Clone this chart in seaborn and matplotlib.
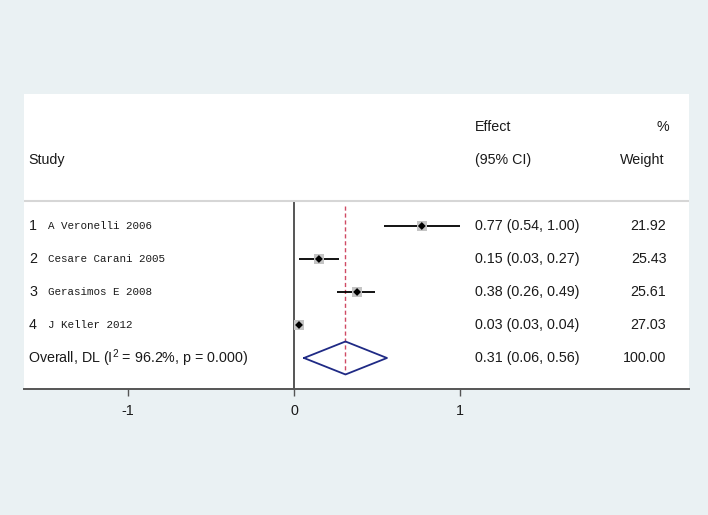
import numpy as np
import pandas as pd
import matplotlib.pyplot as plt
import seaborn as sns

# --- data ---
studies = ['A Veronelli 2006', 'Cesare Carani 2005', 'Gerasimos E 2008', 'J Keller 2012']
effect = [0.77, 0.15, 0.38, 0.03]
lower = [0.54, 0.03, 0.26, 0.03]
upper = [1.00, 0.27, 0.49, 0.04]
weight = [21.92, 25.43, 25.61, 27.03]
overall_est, overall_lo, overall_hi = 0.31, 0.06, 0.56
overall_label = r'Overall, DL (I$^2$ = 96.2%, p = 0.000)'
xticks = [-1, 0, 1]

df = pd.DataFrame({'study': studies, 'effect': effect, 'lower': lower,
                   'upper': upper, 'weight': weight, 'row': [1, 2, 3, 4]})

# --- style ---
sns.set_theme(style='white')
plt.rcParams['font.family'] = ['Liberation Sans', 'DejaVu Sans']
plt.rcParams['mathtext.fontset'] = 'custom'
plt.rcParams['mathtext.rm'] = 'Liberation Sans'

bg = '#eaf1f3'
navy = '#1f2a85'
red = '#d04a64'
gray = '#555555'
txt = '#1a1a1a'

fig = plt.figure(figsize=(7.08, 5.15), dpi=100, facecolor=bg)
ax = fig.add_axes([24 / 708, 1 - 389 / 515, 665 / 708, 295 / 515])
ax.set_facecolor('white')

# confidence intervals + weight boxes + point estimates
ax.hlines(df['row'], df['lower'], df['upper'], color='black', lw=1.3, zorder=2)
sns.scatterplot(data=df, x='effect', y='row', marker='s', s=46, color='#c4c4c4',
                edgecolor='none', ax=ax, zorder=3, legend=False)
sns.scatterplot(data=df, x='effect', y='row', marker='D', s=16, color='black',
                edgecolor='none', ax=ax, zorder=4, legend=False)

# overall diamond
orow, h = 5, 0.5
ax.plot([overall_lo, overall_est, overall_hi, overall_est, overall_lo],
        [orow, orow - h, orow, orow + h, orow], color=navy, lw=1.3, zorder=3)

# reference lines
ax.vlines(overall_est, 0.39, 5.45, color=red, lw=1, linestyles=(0, (3, 2)), zorder=1)
ax.vlines(0, 0.24, 5.94, color=gray, lw=1.4, zorder=1)
ax.axhline(0.24, color='#d6d6d6', lw=1.5, zorder=1)

ax.set_xlim(-1.627, 2.380)
ax.set_ylim(5.94, -3)
ax.set_xticks(xticks)
ax.set_xticklabels([str(t) for t in xticks])
ax.set_yticks([])
ax.set_xlabel('')
ax.set_ylabel('')
for s in ['top', 'left', 'right']:
    ax.spines[s].set_visible(False)
ax.spines['bottom'].set_color(gray)
ax.spines['bottom'].set_linewidth(1.4)
ax.tick_params(axis='x', bottom=True, direction='out', length=5, width=1,
               color=gray, labelsize=10.3, pad=6, labelcolor=txt)

# text columns
tr = ax.get_yaxis_transform()
fs = 10.3
kw = dict(transform=tr, va='center', fontsize=fs, color=txt)
ax.text(0.006, -1, 'Study', ha='left', **kw)
ax.text(0.678, -2, 'Effect', ha='left', **kw)
ax.text(0.678, -1, '(95% CI)', ha='left', **kw)
ax.text(0.970, -2, '%', ha='right', **kw)
ax.text(0.963, -1, 'Weight', ha='right', **kw)

for i, r in df.iterrows():
    ax.text(0.0075, r['row'], str(i + 1), ha='left', **kw)
    ax.text(0.036, r['row'], r['study'], transform=tr, va='center', ha='left',
            fontsize=7.8, color=txt, family=['Liberation Mono', 'DejaVu Sans Mono'])
    ax.text(0.678, r['row'], f"{r['effect']:.2f} ({r['lower']:.2f}, {r['upper']:.2f})",
            ha='left', **kw)
    ax.text(0.966, r['row'], f"{r['weight']:.2f}", ha='right', **kw)

ax.text(0.006, orow, overall_label, ha='left', **kw)
ax.text(0.678, orow, f'{overall_est:.2f} ({overall_lo:.2f}, {overall_hi:.2f})',
        ha='left', **kw)
ax.text(0.966, orow, '100.00', ha='right', **kw)

fig.savefig('out.png', dpi=100, facecolor=fig.get_facecolor())
